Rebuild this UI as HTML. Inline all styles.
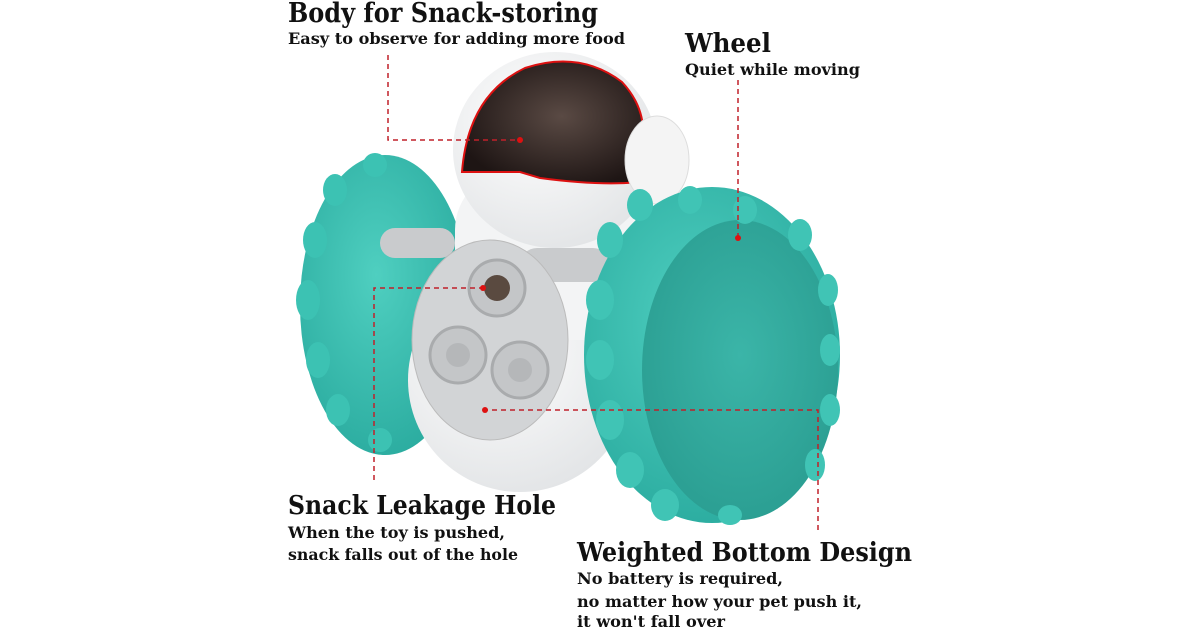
<!DOCTYPE html>
<html><head><meta charset="utf-8"><style>
html,body{margin:0;padding:0;background:#fff;}
svg{display:block}
text{font-family:"DejaVu Serif","Liberation Serif",serif;font-weight:bold;fill:#111}
</style></head><body>
<svg width="1200" height="630" viewBox="0 0 1200 630" xmlns="http://www.w3.org/2000/svg">
<defs>
<radialGradient id="teal" cx="0.45" cy="0.4" r="0.7"><stop offset="0" stop-color="#4fcfc0"/><stop offset="1" stop-color="#27a89c"/></radialGradient>
<radialGradient id="face" cx="0.5" cy="0.45" r="0.6"><stop offset="0" stop-color="#3bb5a8"/><stop offset="1" stop-color="#2a9d91"/></radialGradient>
<radialGradient id="white" cx="0.4" cy="0.35" r="0.7"><stop offset="0" stop-color="#ffffff"/><stop offset="1" stop-color="#e2e4e6"/></radialGradient>
<radialGradient id="visor" cx="0.55" cy="0.45" r="0.6"><stop offset="0" stop-color="#5a4a44"/><stop offset="1" stop-color="#1e1514"/></radialGradient>
</defs>
<!-- left wheel -->
<ellipse cx="385" cy="305" rx="85" ry="150" fill="url(#teal)"/>
<g fill="#3cc2b3">
<ellipse cx="308" cy="300" rx="12" ry="20"/><ellipse cx="315" cy="240" rx="12" ry="18"/><ellipse cx="318" cy="360" rx="12" ry="18"/>
<ellipse cx="335" cy="190" rx="12" ry="16"/><ellipse cx="338" cy="410" rx="12" ry="16"/><ellipse cx="375" cy="165" rx="12" ry="12"/><ellipse cx="380" cy="440" rx="12" ry="12"/>
</g>
<!-- body -->
<circle cx="520" cy="380" r="112" fill="url(#white)"/>
<rect x="455" y="170" width="200" height="170" rx="60" fill="#f3f4f5"/>
<!-- head -->
<ellipse cx="555" cy="150" rx="102" ry="98" fill="url(#white)"/>
<path d="M462 172 Q468 95 525 68 Q580 50 622 82 Q648 110 642 145 L640 182 Q600 186 540 178 L520 172 Z" fill="url(#visor)" stroke="#d11" stroke-width="2"/>
<ellipse cx="657" cy="160" rx="32" ry="44" fill="#f4f4f4" stroke="#ddd"/>
<!-- arms -->
<rect x="380" y="228" width="75" height="30" rx="15" fill="#c9cbcd"/>
<rect x="520" y="248" width="90" height="34" rx="17" fill="#c9cbcd"/>
<!-- plate -->
<ellipse cx="490" cy="340" rx="78" ry="100" fill="#d2d4d6" stroke="#bbb"/>
<circle cx="497" cy="288" r="28" fill="#c4c6c8" stroke="#a9abad" stroke-width="3"/><circle cx="497" cy="288" r="13" fill="#5a4a40"/>
<circle cx="458" cy="355" r="28" fill="#c4c6c8" stroke="#a9abad" stroke-width="3"/><circle cx="458" cy="355" r="12" fill="#b5b7b9"/>
<circle cx="520" cy="370" r="28" fill="#c4c6c8" stroke="#a9abad" stroke-width="3"/><circle cx="520" cy="370" r="12" fill="#b5b7b9"/>
<!-- right wheel -->
<ellipse cx="712" cy="355" rx="128" ry="168" fill="url(#teal)"/>
<ellipse cx="740" cy="370" rx="98" ry="150" fill="url(#face)"/>
<g fill="#40c4b5">
<ellipse cx="600" cy="300" rx="14" ry="20"/><ellipse cx="610" cy="240" rx="13" ry="18"/><ellipse cx="600" cy="360" rx="14" ry="20"/>
<ellipse cx="610" cy="420" rx="14" ry="20"/><ellipse cx="630" cy="470" rx="14" ry="18"/><ellipse cx="665" cy="505" rx="14" ry="16"/>
<ellipse cx="640" cy="205" rx="13" ry="16"/><ellipse cx="690" cy="200" rx="12" ry="14"/><ellipse cx="745" cy="210" rx="12" ry="14"/>
<ellipse cx="800" cy="235" rx="12" ry="16"/><ellipse cx="828" cy="290" rx="10" ry="16"/><ellipse cx="830" cy="350" rx="10" ry="16"/>
<ellipse cx="830" cy="410" rx="10" ry="16"/><ellipse cx="815" cy="465" rx="10" ry="16"/><ellipse cx="730" cy="515" rx="12" ry="10"/>
</g>
<!-- dashed leaders -->
<g stroke="#c0202a" stroke-width="1.5" fill="none" stroke-dasharray="5,4">
<path d="M388 55 V140 H520"/>
<path d="M738 80 V238"/>
<path d="M374 480 V288 H483"/>
<path d="M818 530 V410 H485"/>
</g>
<g fill="#d11"><circle cx="520" cy="140" r="3"/><circle cx="738" cy="238" r="3"/><circle cx="483" cy="288" r="3"/><circle cx="485" cy="410" r="3"/></g>
<!-- labels -->
<text x="288" y="22" font-size="27" textLength="310" lengthAdjust="spacingAndGlyphs">Body for Snack-storing</text>
<text x="288" y="44" font-size="16" textLength="337" lengthAdjust="spacingAndGlyphs">Easy to observe for adding more food</text>
<text x="685" y="52" font-size="26" textLength="86" lengthAdjust="spacingAndGlyphs">Wheel</text>
<text x="685" y="75" font-size="16" textLength="175" lengthAdjust="spacingAndGlyphs">Quiet while moving</text>
<text x="288" y="514" font-size="26" textLength="268" lengthAdjust="spacingAndGlyphs">Snack Leakage Hole</text>
<text x="288" y="538" font-size="16" textLength="217" lengthAdjust="spacingAndGlyphs">When the toy is pushed,</text>
<text x="288" y="560" font-size="16" textLength="230" lengthAdjust="spacingAndGlyphs">snack falls out of the hole</text>
<text x="577" y="561" font-size="26" textLength="335" lengthAdjust="spacingAndGlyphs">Weighted Bottom Design</text>
<text x="577" y="584" font-size="16" textLength="206" lengthAdjust="spacingAndGlyphs">No battery is required,</text>
<text x="577" y="607" font-size="16" textLength="285" lengthAdjust="spacingAndGlyphs">no matter how your pet push it,</text>
<text x="577" y="627" font-size="16" textLength="148" lengthAdjust="spacingAndGlyphs">it won't fall over</text>
</svg>
</body></html>
